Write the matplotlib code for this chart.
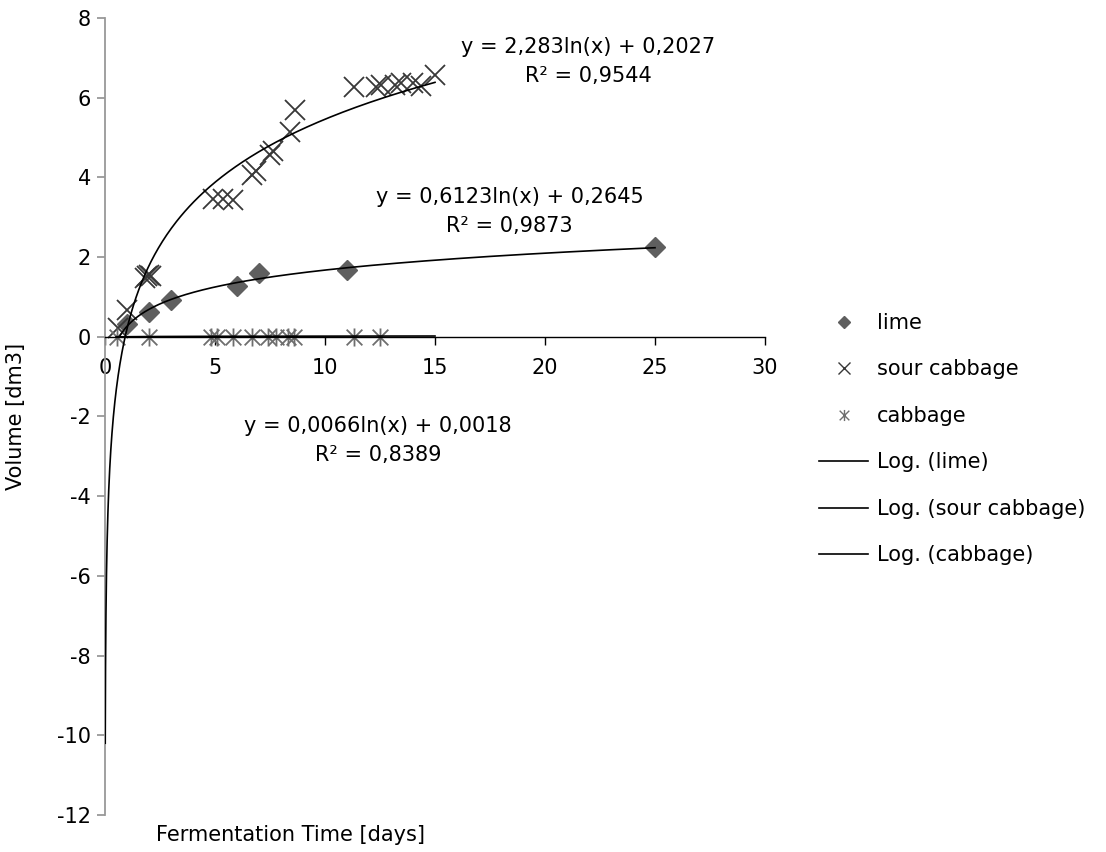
import numpy as np
import matplotlib
matplotlib.use("Agg")
import matplotlib.pyplot as plt
from matplotlib.path import Path
from matplotlib.lines import Line2D

plt.rcParams['font.family'] = ['DejaVu Sans']
plt.rcParams['axes.unicode_minus'] = False

# ---- data ----
lime_x = [1, 2, 3, 6, 7, 11, 25]
lime_y = [0.32, 0.61, 0.93, 1.28, 1.60, 1.68, 2.26]

sour_x = [0.6, 1.0, 1.8, 1.9, 2.0, 2.1, 4.9, 5.35, 5.8, 6.7, 6.85, 7.5, 7.65,
          8.4, 8.65, 11.3, 12.3, 12.55, 13.2, 13.45, 14.0, 14.35, 15.0]
sour_y = [0.22, 0.68, 1.47, 1.53, 1.55, 1.52, 3.45, 3.45, 3.43, 4.05, 4.15, 4.55,
          4.65, 5.15, 5.69, 6.27, 6.27, 6.32, 6.32, 6.36, 6.36, 6.30, 6.57]

cab_x = [0.55, 2.0, 4.8, 5.1, 5.8, 6.7, 7.4, 7.75, 8.3, 8.6, 11.3, 12.5]
cab_y = [0, 0, 0, 0, 0, 0, 0, 0, 0, 0, 0, 0]

# logarithmic trendlines: y = a*ln(x) + b
lime_fit = (0.6123, 0.2645, 0.9873)
sour_fit = (2.283, 0.2027, 0.9544)
cab_fit = (0.0066, 0.0018, 0.8389)
lime_range = (0.65, 25)
sour_range = (0.0105, 15)
cab_range = (0.5, 15)

series_names = ['lime', 'sour cabbage', 'cabbage']
xticks = [0, 5, 10, 15, 20, 25, 30]
yticks = [-12, -10, -8, -6, -4, -2, 0, 2, 4, 6, 8]

FS = 15
W, H = 1106, 852
fig = plt.figure(figsize=(W / 100, H / 100), dpi=100)
ax = fig.add_axes([105 / W, 1 - 815 / H, 660 / W, 797 / H])

# asterisk marker: X + vertical bar
ast = Path([(-1, -1), (1, 1), (-1, 1), (1, -1), (0, -1.15), (0, 1.15)],
           [Path.MOVETO, Path.LINETO, Path.MOVETO, Path.LINETO, Path.MOVETO, Path.LINETO])

def fmt(v, nd):
    return f"{v:.{nd}f}".replace('.', ',')

def trend(fit, rng):
    xs = np.geomspace(rng[0], rng[1], 400)
    return xs, fit[0] * np.log(xs) + fit[1]

for fit, rng in [(lime_fit, lime_range), (sour_fit, sour_range), (cab_fit, cab_range)]:
    xs, ys = trend(fit, rng)
    ax.plot(xs, ys, color='black', lw=1.2, zorder=3)

ax.plot(lime_x, lime_y, linestyle='none', marker='D', ms=10, mfc='#5f5f5f',
        mec='#5f5f5f', zorder=2)
ax.plot(sour_x, sour_y, linestyle='none', marker='x', ms=14, mew=1.3,
        color='#383838', zorder=2)
ax.plot(cab_x, cab_y, linestyle='none', marker=ast, ms=13, mew=1.3,
        color='#6e6e6e', zorder=2)

ax.set_xlim(0, 30)
ax.set_ylim(-12, 8)
ax.set_xticks(xticks)
ax.set_yticks(yticks)
ax.set_xticklabels([str(t) for t in xticks])
ax.set_yticklabels([str(t) for t in yticks])

for s in ['top', 'right']:
    ax.spines[s].set_visible(False)
ax.spines['bottom'].set_position(('data', 0))
ax.spines['bottom'].set_color('black')
ax.spines['bottom'].set_linewidth(1.0)
ax.spines['left'].set_color('#999999')
ax.spines['left'].set_linewidth(1.3)

ax.tick_params(axis='x', direction='out', length=6, width=1.0, colors='black',
               labelsize=FS, pad=9)
ax.tick_params(axis='y', direction='out', length=6, width=1.3, colors='#999999',
               labelcolor='black', labelsize=FS, pad=4)

ax.set_ylabel('Volume [dm3]', fontsize=FS)
ax.yaxis.set_label_coords(-0.12, 0.5)
fig.text(290 / W, 1 - 835 / H, 'Fermentation Time [days]', fontsize=FS,
         ha='center', va='center')

# trendline equations
def eq(fit):
    return f"y = {fmt(fit[0], 4 if fit[0] < 1 else 3)}ln(x) + {fmt(fit[1], 4)}\nR² = {fmt(fit[2], 4)}"

ax.text(21.95, 6.90, eq(sour_fit), fontsize=FS, ha='center', va='center',
        multialignment='center', linespacing=1.55)
ax.text(18.4, 3.14, eq(lime_fit), fontsize=FS, ha='center', va='center',
        multialignment='center', linespacing=1.55)
ax.text(12.4, -2.6, eq(cab_fit), fontsize=FS, ha='center', va='center',
        multialignment='center', linespacing=1.55)

handles = [
    Line2D([], [], linestyle='none', marker='D', ms=6.5, mfc='#5f5f5f', mec='#5f5f5f'),
    Line2D([], [], linestyle='none', marker='x', ms=8, mew=1.0, color='#383838'),
    Line2D([], [], linestyle='none', marker=ast, ms=8, mew=1.0, color='#6e6e6e'),
    Line2D([], [], color='black', lw=1.2),
    Line2D([], [], color='black', lw=1.2),
    Line2D([], [], color='black', lw=1.2),
]
labels = series_names + [f'Log. ({n})' for n in series_names]
ax.legend(handles, labels, loc='upper left', bbox_to_anchor=(819 / W, 1 - 313 / H),
          bbox_transform=fig.transFigure, frameon=False, fontsize=FS,
          borderpad=0, borderaxespad=0, handlelength=2.36, handletextpad=0.43,
          labelspacing=1.27)

fig.savefig('out.png', dpi=100)
